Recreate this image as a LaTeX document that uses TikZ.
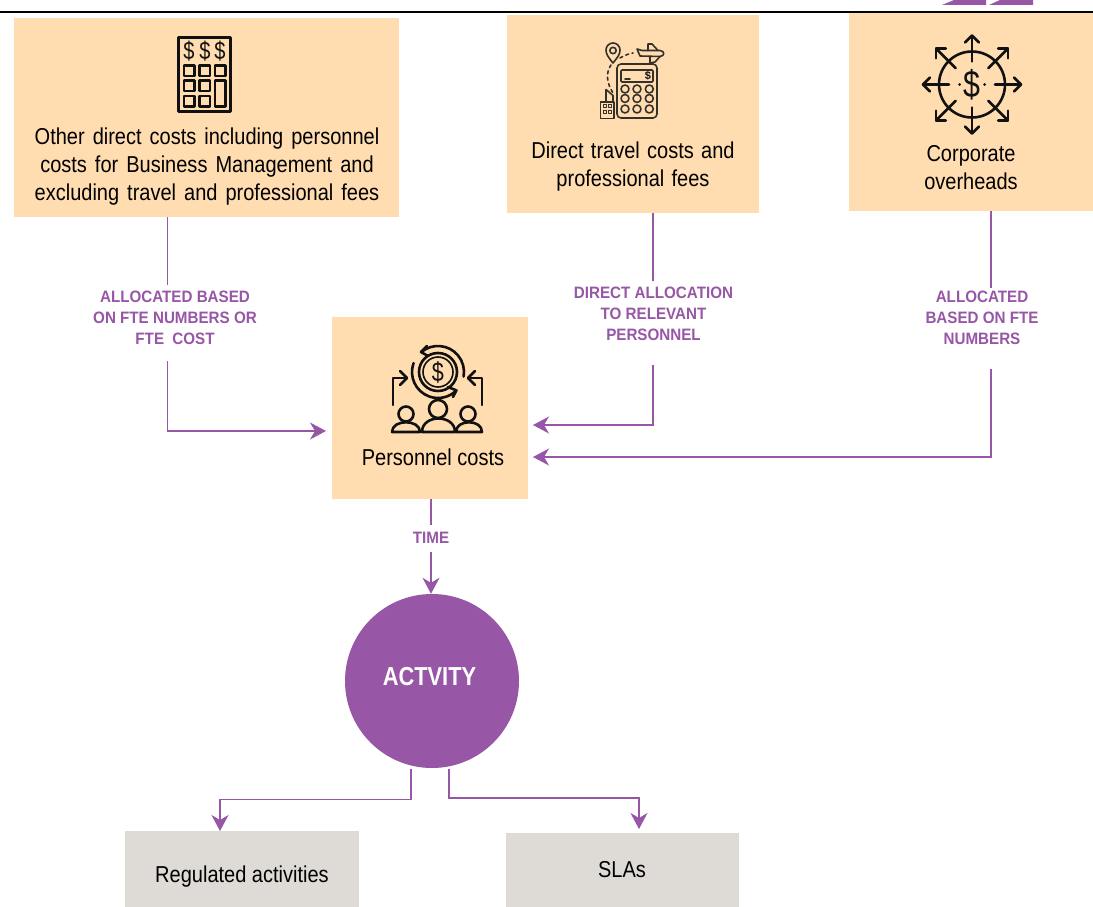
\documentclass[tikz,border=0pt]{standalone}
\usepackage{fontspec}
\setmainfont{Liberation Sans}
\newfontfamily\narrowf[FakeStretch=0.87]{Liberation Sans}
\newfontfamily\narrowb[FakeStretch=0.92]{Liberation Sans Bold}
\newfontfamily\actf[FakeStretch=0.84]{Liberation Sans Bold}
\newfontfamily\iconf[FakeStretch=0.8]{Liberation Sans}
\usetikzlibrary{arrows.meta}
\definecolor{peach}{HTML}{FFDDB0}
\definecolor{purp}{HTML}{9856A6}
\definecolor{greybox}{HTML}{DEDBD7}
\definecolor{ink}{HTML}{111111}
\newcommand{\wsp}[1]{\spaceskip #1\relax}
\tikzset{
 peachbox/.style={fill=peach,draw=none,anchor=north west,inner sep=0pt},
 greyrect/.style={fill=greybox,draw=none,anchor=north west,inner sep=0pt},
 boxtext/.style={font=\narrowf\fontsize{23}{28}\selectfont,align=center,text=black,inner sep=0pt},
 edgelabel/.style={font=\narrowb\fontsize{16.5}{21}\selectfont,align=center,text=purp,inner sep=0pt},
 plainline/.style={draw=purp,line width=1.4pt},
 conn/.style={plainline,-{Stealth[length=16pt,width=17pt,inset=5pt]}},
 icon/.style={draw=ink,line width=2.6pt,line cap=round,line join=round},
 iconthin/.style={draw=ink!85!peach,line width=1.6pt,line cap=round,line join=round},
}
\begin{document}
\begin{tikzpicture}[x=1pt,y=-1pt]
\useasboundingbox (0,0) rectangle (1093,907);
\fill[white] (0,0) rectangle (1093,907);
\coordinate (ruleL) at (0,12); \coordinate (ruleR) at (1093,12);
\draw[black,line width=2pt] (ruleL) -- (ruleR);
\fill[purp] (942,5) -- (954,0) -- (986,0) -- (986,5) -- cycle;
\fill[purp] (989,5) -- (1000,0) -- (1033,0) -- (1033,5) -- cycle;
% boxes
\node[peachbox,minimum width=385pt,minimum height=199pt] (other) at (14,18) {};
\node[peachbox,minimum width=252pt,minimum height=198pt] (travel) at (507,15) {};
\node[peachbox,minimum width=244pt,minimum height=198pt] (corp) at (849,13) {};
\node[peachbox,minimum width=196pt,minimum height=182pt] (pers) at (332,317) {};
\node[circle,fill=purp,draw=none,minimum size=174pt,inner sep=0pt] (act) at (432,681) {};
\node[greyrect,minimum width=234pt,minimum height=76pt] (reg) at (125,831) {};
\node[greyrect,minimum width=233pt,minimum height=74pt] (sla) at (506,833) {};
% box texts
\node[boxtext] (otherT) at (207,167) {\wsp{8pt}Other direct costs including personnel\\\wsp{8pt}costs for Business Management and\\\wsp{8pt}excluding travel and professional fees};
\node[boxtext] (travelT) at (633,167) {\wsp{7.3pt}Direct travel costs and\\\wsp{7.3pt}professional fees};
\node[boxtext] (corpT) at (971,168) {Corporate\\overheads};
\node[boxtext] (persT) at (433,457) {Personnel costs};
\node[font=\actf\fontsize{26}{30}\selectfont,text=white,inner sep=0pt] (actT) at (429.5,677) {ACTVITY};
\node[boxtext] (regT) at (242,877) {Regulated activities};
\node[boxtext] (slaT) at (622,870) {SLAs};
% labels
\node[edgelabel] (l1) at (175,318) {ALLOCATED BASED\\ON FTE NUMBERS OR\\FTE\hspace{4pt} COST};
\node[edgelabel] (l2) at (653.5,314) {DIRECT ALLOCATION\\TO RELEVANT\\PERSONNEL};
\node[edgelabel] (l3) at (982,318) {ALLOCATED\\BASED ON FTE\\NUMBERS};
\node[edgelabel] (l4) at (431,538) {TIME};
% connectors (broken round their labels)
\coordinate (otherEnd) at (326,431);
\coordinate (travelEnd) at (533,425);
\coordinate (corpEnd) at (533,457);
\coordinate (g1a) at (167.5,285); \coordinate (g1b) at (167.5,361);
\coordinate (g2a) at (653,281);   \coordinate (g2b) at (653,365);
\coordinate (g3a) at (991,288);   \coordinate (g3b) at (991,369);
\coordinate (g4a) at (431,525);   \coordinate (g4b) at (431,552);
\draw[plainline] (other.south -| g1a) -- (g1a);
\draw[conn] (g1b) |- (otherEnd);
\draw[plainline] (travel.south -| g2a) -- (g2a);
\draw[conn] (g2b) |- (travelEnd);
\draw[plainline] (corp.south -| g3a) -- (g3a);
\draw[conn] (g3b) |- (corpEnd);
\draw[plainline] (pers.south -| g4a) -- (g4a);
\draw[conn] (g4b) -- (act.north -| g4b);
\coordinate (actL) at (411,768.5);
\coordinate (actR) at (449,768.5);
\coordinate (regTop) at (220,831);
\coordinate (slaTop) at (639,829);
\draw[conn] (actL) -- (411,799.5) -- (220,799.5) -- (regTop);
\draw[conn] (actR) -- (449,798) -- (639,798) -- (slaTop);
% calculator icon
\begin{scope}[shift={(140,20)}]
 \draw[icon] (38.5,17.5) rectangle (90.5,91.5);
 \foreach \xx in {49,65,80}{
  \node[font=\iconf\fontsize{25}{25}\selectfont,text=ink,inner sep=0pt] (dollarc\xx) at (\xx,31) {\$};
 }
 \foreach \xx in {44,59.5,75}{
  \draw[icon] (\xx,45.5) rectangle ++(10.5,10.5);
 }
 \foreach \xx in {44,59.5}{
  \draw[icon] (\xx,60.5) rectangle ++(10.5,10.5);
  \draw[icon] (\xx,76) rectangle ++(10.5,10.5);
 }
 \draw[icon] (75,60.5) rectangle (85.5,86.5);
\end{scope}
% travel icon
\begin{scope}[shift={(580,30)}]
 \draw[iconthin,rounded corners=4pt] (37,34) rectangle (77,88);
 \draw[iconthin,rounded corners=1pt] (41,40) rectangle (73,52);
 \draw[iconthin] (45,49) -- (50,49);
 \node[font=\bfseries\fontsize{11}{11}\selectfont,text=ink,inner sep=0pt] (dollart) at (68,46) {\$};
 \foreach \xx in {45,57,69.3}{\foreach \yy in {59,68.5,79}{
  \draw[iconthin] (\xx,\yy) circle (4pt);
 }}
 \draw[iconthin] (33,33) .. controls (28,27) and (26,24) .. (26,20) arc (180:360:7) .. controls (40,24) and (38,27) .. (33,33) -- cycle;
 \draw[iconthin] (33,20.5) circle (3.2pt);
 \draw[iconthin,dash pattern=on 3pt off 3.5pt] (40,28) .. controls (44,25.5) and (48,24) .. (53,23);
 \draw[iconthin,dash pattern=on 3pt off 3.5pt] (31,35) .. controls (26,42) and (26,52) .. (33,63);
 \draw[iconthin] (57,19) -- (60,26) -- (80,26.5) .. controls (85,26) and (85,21) .. (80,20.5) -- (62,20.5) -- cycle;
 \draw[iconthin] (68,20.5) -- (68,14) -- (72,14) -- (78,20.5);
 \draw[iconthin] (70,26.5) -- (70,33) -- (75,32) -- (80,26.5);
 \draw[iconthin] (20.5,72) rectangle (34,88.5);
 \draw[iconthin] (26,72) -- (26,59.5) -- (33,65.5) -- (33,72);
 \foreach \xx in {23,28.5}{\foreach \yy in {74,80}{
   \draw[iconthin,line width=1pt] (\xx,\yy) rectangle ++(3.2,3.2);
 }}
\end{scope}
% corporate overhead icon
\begin{scope}[shift={(972,84.5)}]
 \draw[icon] (0,0) circle (33pt);
 \node[font=\iconf\fontsize{38}{38}\selectfont,text=ink,inner sep=0pt] (dollarr) at (0,0) {\$};
 \fill[ink] (-12.5,0) circle (1.5pt) (12.5,0) circle (1.5pt);
 \foreach \ang in {0,90,...,270}{
  \begin{scope}[rotate=\ang]
   \draw[icon] (23,0) -- (49,0);
   \draw[icon] (42,-7) -- (49,0) -- (42,7);
  \end{scope}
 }
 \foreach \ang in {45,135,...,315}{
  \begin{scope}[rotate=\ang]
   \draw[icon] (23,0) -- (51,0);
   \draw[icon] (44,-7) -- (51,0) -- (44,7);
  \end{scope}
 }
\end{scope}
% personnel icon
\begin{scope}[shift={(380,335)}]
 \node[font=\iconf\fontsize{27}{27}\selectfont,text=ink,inner sep=0pt] (dollarp) at (58,37) {\$};
 \draw[icon] (58,37) circle (19pt);
 \draw[icon,line width=1.6pt] (58,37) circle (15pt);
 \draw[icon] (58,37) ++(-130:26) arc (-130:10:26);
 \draw[icon] (47,11) -- (41,17) -- (48,21);
 \draw[icon] (58,37) ++(200:26) arc (200:45:26);
 \draw[icon] (68,52) -- (76.4,55.4) -- (73,62);
 \draw[icon] (13,70) -- (13,43) -- (27,43);
 \draw[icon] (20,36) -- (27,43) -- (20,50);
 \draw[icon] (102,70) -- (102,43) -- (88,43);
 \draw[icon] (95,36) -- (88,43) -- (95,50);
 \draw[icon] (26,79) circle (7.5pt);
 \draw[icon] (58,74) circle (9pt);
 \draw[icon] (88,79) circle (7.5pt);
 \draw[icon] (12,97) .. controls (12,84) and (40,84) .. (40,97) -- cycle;
 \draw[icon] (42,97) .. controls (42,79) and (75,79) .. (75,97) -- cycle;
 \draw[icon] (76,97) .. controls (76,84) and (102,84) .. (102,97) -- cycle;
\end{scope}
\end{tikzpicture}
\end{document}
